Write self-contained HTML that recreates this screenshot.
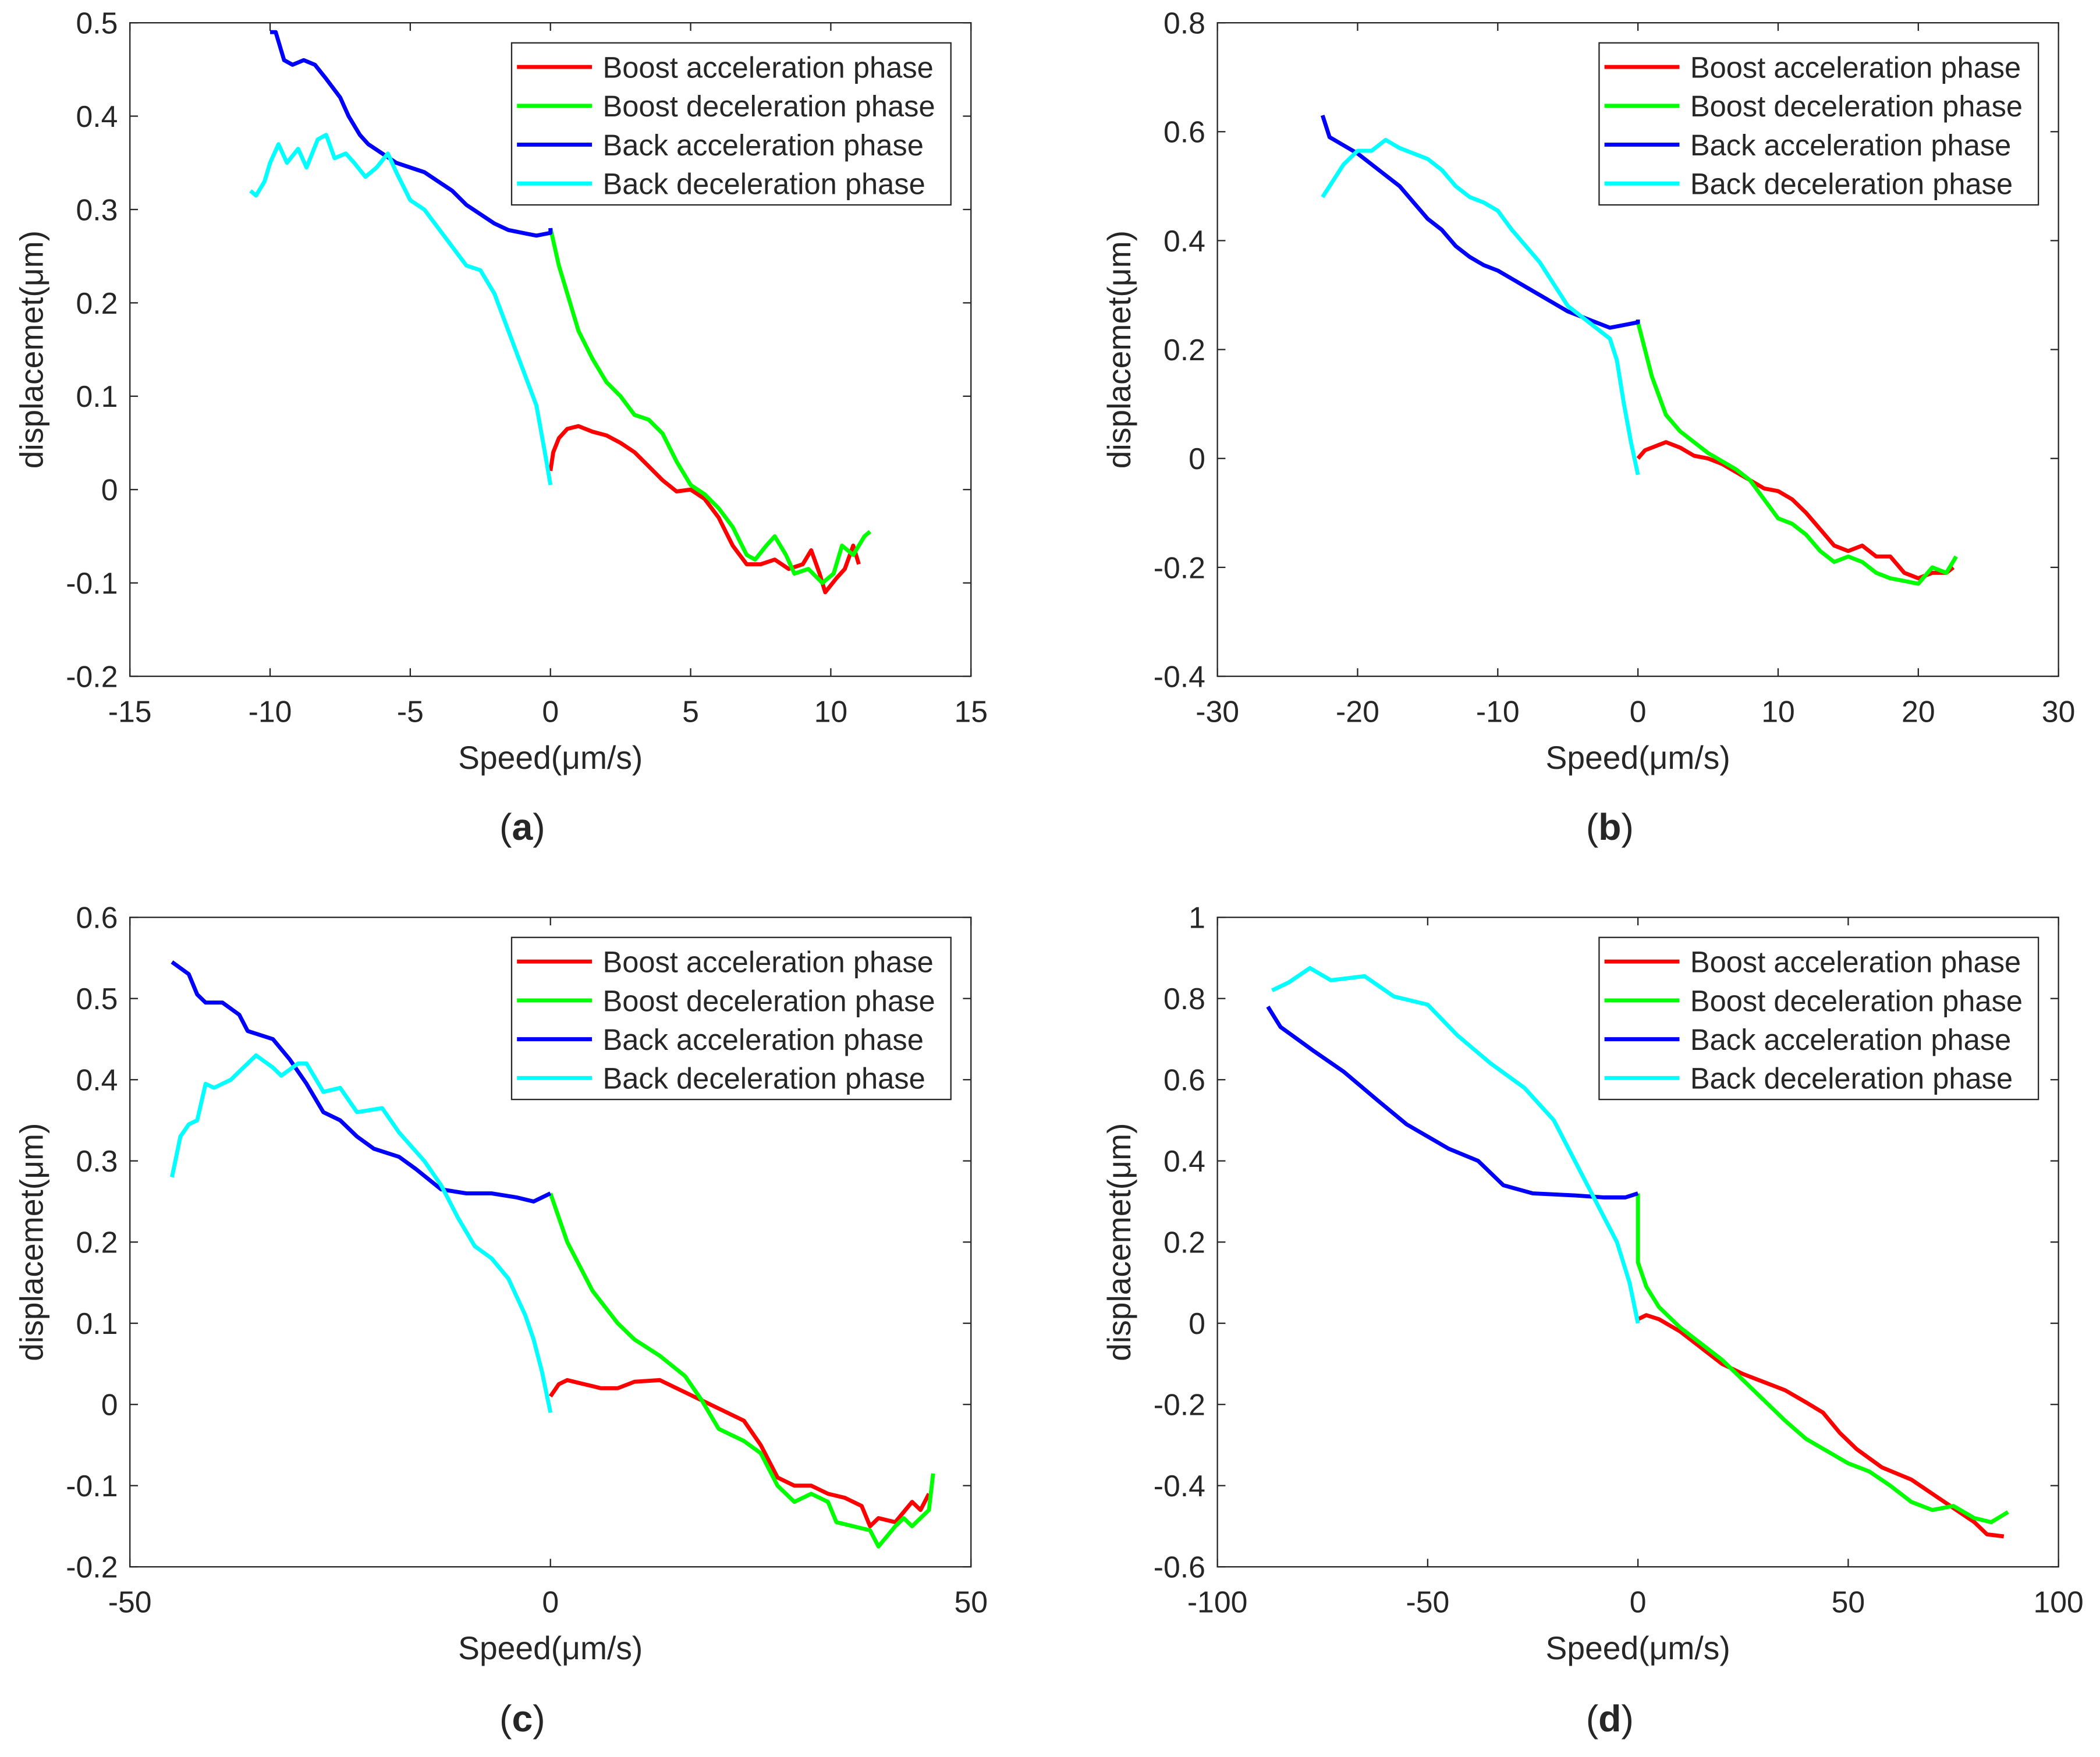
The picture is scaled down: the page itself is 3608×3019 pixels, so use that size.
<!DOCTYPE html>
<html><head><meta charset="utf-8"><style>
html,body{margin:0;padding:0;background:#fff}
svg{display:block}
text{font-family:"Liberation Sans",sans-serif;fill:#262626}
</style></head><body>
<svg id="fig" width="3608" height="3019" viewBox="0 0 1568 1312" xmlns="http://www.w3.org/2000/svg"></svg>
<script>
// Panel (a)
const aBoostAccX=[0,0.1,0.3,0.6,1,1.5,2,2.5,3,3.5,4,4.5,5,5.5,6,6.5,7,7.5,8,8.5,9,9.3,9.6,9.8,10.2,10.5,10.8,11];
const aBoostAccY=[0.02,0.04,0.055,0.065,0.068,0.062,0.058,0.05,0.04,0.025,0.01,-0.002,0,-0.01,-0.03,-0.06,-0.08,-0.08,-0.075,-0.085,-0.08,-0.065,-0.09,-0.11,-0.095,-0.085,-0.06,-0.08];
const aBoostDecX=[0,0.3,0.7,1,1.5,2,2.5,3,3.5,4,4.5,5,5.5,6,6.5,7,7.3,7.7,8,8.4,8.7,9.2,9.7,10.1,10.4,10.8,11.2,11.4];
const aBoostDecY=[0.28,0.24,0.2,0.17,0.14,0.115,0.1,0.08,0.075,0.06,0.03,0.005,-0.005,-0.02,-0.04,-0.07,-0.075,-0.06,-0.05,-0.07,-0.09,-0.085,-0.1,-0.09,-0.06,-0.07,-0.05,-0.045];
const aBackAccX=[-10,-9.8,-9.5,-9.2,-8.8,-8.4,-8,-7.5,-7.2,-6.8,-6.5,-6,-5.5,-5,-4.5,-4,-3.5,-3,-2.5,-2,-1.5,-1,-0.5,0,0];
const aBackAccY=[0.49,0.49,0.46,0.455,0.46,0.455,0.44,0.42,0.4,0.38,0.37,0.36,0.35,0.345,0.34,0.33,0.32,0.305,0.295,0.285,0.278,0.275,0.272,0.275,0.28];
const aBackDecX=[-10.7,-10.5,-10.2,-10,-9.7,-9.4,-9,-8.7,-8.3,-8,-7.7,-7.3,-7,-6.6,-6.2,-5.8,-5.5,-5,-4.5,-4,-3.5,-3,-2.5,-2,-1.5,-1,-0.5,-0.2,0];
const aBackDecY=[0.32,0.315,0.33,0.35,0.37,0.35,0.365,0.345,0.375,0.38,0.355,0.36,0.35,0.335,0.345,0.36,0.34,0.31,0.3,0.28,0.26,0.24,0.235,0.21,0.17,0.13,0.09,0.04,0.005];
const aXTicks=[-15,-10,-5,0,5,10,15];
const aYTicks=[-0.2,-0.1,0,0.1,0.2,0.3,0.4,0.5];
// Panel (b)
const bBoostAccX=[0,0.5,1,2,3,4,5,6,7,8,9,10,11,12,13,14,15,16,17,18,19,20,21,22,22.5];
const bBoostAccY=[0,0.015,0.02,0.03,0.02,0.005,0,-0.01,-0.025,-0.04,-0.055,-0.06,-0.075,-0.1,-0.13,-0.16,-0.17,-0.16,-0.18,-0.18,-0.21,-0.22,-0.21,-0.21,-0.2];
const bBoostDecX=[0,0.5,1,2,3,4,5,6,7,8,9,10,11,12,13,14,15,16,17,18,19,20,21,22,22.7];
const bBoostDecY=[0.25,0.2,0.15,0.08,0.05,0.03,0.01,-0.005,-0.02,-0.04,-0.075,-0.11,-0.12,-0.14,-0.17,-0.19,-0.18,-0.19,-0.21,-0.22,-0.225,-0.23,-0.2,-0.21,-0.18];
const bBackAccX=[-22.5,-22,-21,-20,-19,-18,-17,-16,-15,-14,-13,-12,-11,-10,-9,-8,-7,-6,-5,-4,-3,-2,-1,0,0];
const bBackAccY=[0.63,0.59,0.575,0.56,0.54,0.52,0.5,0.47,0.44,0.42,0.39,0.37,0.355,0.345,0.33,0.315,0.3,0.285,0.27,0.26,0.25,0.24,0.245,0.25,0.255];
const bBackDecX=[-22.5,-22,-21.5,-21,-20,-19,-18,-17,-16,-15,-14,-13,-12,-11,-10,-9,-8,-7,-6,-5,-4,-3,-2,-1.5,-1,-0.5,0];
const bBackDecY=[0.48,0.5,0.52,0.54,0.565,0.565,0.585,0.57,0.56,0.55,0.53,0.5,0.48,0.47,0.455,0.42,0.39,0.36,0.32,0.28,0.26,0.24,0.22,0.18,0.1,0.03,-0.03];
const bXTicks=[-30,-20,-10,0,10,20,30];
const bYTicks=[-0.4,-0.2,0,0.2,0.4,0.6,0.8];
// Panel (c)
const cBoostAccX=[0,1,2,4,6,8,10,13,16,18,20,23,25,27,29,31,33,35,37,38,39,41,43,44,45];
const cBoostAccY=[0.01,0.025,0.03,0.025,0.02,0.02,0.028,0.03,0.015,0.005,-0.005,-0.02,-0.05,-0.09,-0.1,-0.1,-0.11,-0.115,-0.125,-0.15,-0.14,-0.145,-0.12,-0.13,-0.11];
const cBoostDecX=[0,2,5,8,10,13,16,18,20,23,25,27,29,31,33,34,36,38,39,41,42,43,44,45,45.5];
const cBoostDecY=[0.26,0.2,0.14,0.1,0.08,0.06,0.035,0.005,-0.03,-0.045,-0.06,-0.1,-0.12,-0.11,-0.12,-0.145,-0.15,-0.155,-0.175,-0.15,-0.14,-0.15,-0.14,-0.13,-0.085];
const cBackAccX=[-45,-43,-42,-41,-39,-37,-36,-33,-31,-29,-27,-25,-23,-21,-18,-16,-13,-10,-7,-4,-2,0];
const cBackAccY=[0.545,0.53,0.505,0.495,0.495,0.48,0.46,0.45,0.425,0.395,0.36,0.35,0.33,0.315,0.305,0.29,0.265,0.26,0.26,0.255,0.25,0.26];
const cBackDecX=[-45,-44,-43,-42,-41,-40,-38,-37,-35,-33,-32,-30,-29,-27,-25,-23,-20,-18,-15,-13,-11,-9,-7,-5,-3,-2,-1,0];
const cBackDecY=[0.28,0.33,0.345,0.35,0.395,0.39,0.4,0.41,0.43,0.415,0.405,0.42,0.42,0.385,0.39,0.36,0.365,0.335,0.3,0.27,0.23,0.195,0.18,0.155,0.11,0.08,0.04,-0.01];
const cXTicks=[-50,0,50];
const cYTicks=[-0.2,-0.1,0,0.1,0.2,0.3,0.4,0.5,0.6];
// Panel (d)
const dBoostAccX=[0,2,5,10,15,20,25,30,35,40,44,48,52,58,65,70,75,80,83,87];
const dBoostAccY=[0.01,0.02,0.01,-0.02,-0.06,-0.1,-0.125,-0.145,-0.165,-0.195,-0.22,-0.27,-0.31,-0.355,-0.385,-0.42,-0.455,-0.49,-0.52,-0.525];
const dBoostDecX=[0,0,2,5,10,15,20,25,30,35,40,45,50,55,60,65,70,75,80,84,88];
const dBoostDecY=[0.32,0.15,0.09,0.04,-0.01,-0.05,-0.09,-0.14,-0.19,-0.24,-0.285,-0.315,-0.345,-0.365,-0.4,-0.44,-0.46,-0.45,-0.48,-0.49,-0.465];
const dBackAccX=[-88,-85,-77,-70,-62,-55,-50,-45,-38,-32,-25,-15,-8,-3,0];
const dBackAccY=[0.78,0.73,0.67,0.62,0.55,0.49,0.46,0.43,0.4,0.34,0.32,0.315,0.31,0.31,0.32];
const dBackDecX=[-87,-83,-78,-73,-65,-58,-50,-43,-35,-27,-20,-15,-10,-5,-2,0];
const dBackDecY=[0.82,0.84,0.875,0.845,0.855,0.805,0.785,0.71,0.64,0.58,0.5,0.4,0.3,0.2,0.1,0];
const dXTicks=[-100,-50,0,50,100];
const dYTicks=[-0.6,-0.4,-0.2,0,0.2,0.4,0.6,0.8,1];

const legendNames=["Boost acceleration phase","Boost deceleration phase","Back acceleration phase","Back deceleration phase"];
const colors=["#ff0000","#00ff00","#0000ff","#00ffff"];
const NS="http://www.w3.org/2000/svg";
const fig=document.getElementById('fig');
function mk(tag,attrs,parent){const e=document.createElementNS(NS,tag);for(const k in attrs)e.setAttribute(k,attrs[k]);(parent||fig).appendChild(e);return e;}
function fmt(v){return String(Math.round(v*1000)/1000);}

function panel(id,L,T,R,B,xmin,xmax,ymin,ymax,xt,yt,series,label,labelY){
  const g=mk('g',{});
  
  
  const sx=v=>L+(v-xmin)/(xmax-xmin)*(R-L);
  const sy=v=>B-(v-ymin)/(ymax-ymin)*(B-T);
  const box=mk('rect',{x:L,y:T,width:R-L,height:B-T,fill:'#fff',stroke:'#262626','stroke-width':1},g);
  
  
  xt.forEach(v=>{
    const x=sx(v);
    mk('line',{x1:x,y1:B,x2:x,y2:B-6,stroke:'#262626','stroke-width':1},g);
    mk('line',{x1:x,y1:T,x2:x,y2:T+6,stroke:'#262626','stroke-width':1},g);
    const t=mk('text',{x:x,y:B+34,'font-size':22.5,'text-anchor':'middle'},g);
    t.textContent=fmt(v);
    
    
  });
  yt.forEach(v=>{
    const y=sy(v);
    mk('line',{x1:L,y1:y,x2:L+6,y2:y,stroke:'#262626','stroke-width':1},g);
    mk('line',{x1:R,y1:y,x2:R-6,y2:y,stroke:'#262626','stroke-width':1},g);
    const t=mk('text',{x:L-9,y:y+8,'font-size':22.5,'text-anchor':'end'},g);
    t.textContent=fmt(v);
    
    
  });
  series.forEach((s,i)=>{
    const pts=s[0].map((x,j)=>sx(x).toFixed(2)+','+sy(s[1][j]).toFixed(2)).join(' ');
    const p=mk('polyline',{points:pts,fill:'none',stroke:colors[i],'stroke-width':3,'stroke-linejoin':'round'},g);
    
    
  });
  const xtitle=mk('text',{x:(L+R)/2,y:B+69,'font-size':24,'text-anchor':'middle'},g);
  xtitle.textContent='Speed(μm/s)';
  
  
  const cy=(T+B)/2, tx=L-65;
  const ytitle=mk('text',{x:tx,y:cy,'font-size':24,'text-anchor':'middle',transform:'rotate(-90 '+tx+' '+cy+')'},g);
  ytitle.textContent='displacemet(μm)';
  
  
  const lx=L+285, ly=T+15;
  const lg=mk('g',{},g);
  
  
  mk('rect',{x:lx,y:ly,width:328,height:121,fill:'#fff',stroke:'#262626','stroke-width':1},lg);
  legendNames.forEach((n,i)=>{
    const y=ly+18+i*29;
    mk('line',{x1:lx+4,y1:y,x2:lx+60,y2:y,stroke:colors[i],'stroke-width':3},lg);
    const t=mk('text',{x:lx+68,y:y+8,'font-size':22},lg);
    t.textContent=n;
    
    
  });
  const cap=mk('text',{x:(L+R)/2-21,y:labelY,'font-size':28,'text-anchor':'middle','font-family':'Liberation Serif, serif'},g);
  cap.innerHTML='(<tspan font-weight="bold">'+label+'</tspan>)';
  
  
}
panel('a',97,17,725,505,-15,15,-0.2,0.5,aXTicks,aYTicks,[[aBoostAccX,aBoostAccY],[aBoostDecX,aBoostDecY],[aBackAccX,aBackAccY],[aBackDecX,aBackDecY]],'a',627);
panel('b',909,17,1537,505,-30,30,-0.4,0.8,bXTicks,bYTicks,[[bBoostAccX,bBoostAccY],[bBoostDecX,bBoostDecY],[bBackAccX,bBackAccY],[bBackDecX,bBackDecY]],'b',627);
panel('c',97,685,725,1170,-50,50,-0.2,0.6,cXTicks,cYTicks,[[cBoostAccX,cBoostAccY],[cBoostDecX,cBoostDecY],[cBackAccX,cBackAccY],[cBackDecX,cBackDecY]],'c',1293);
panel('d',909,685,1537,1170,-100,100,-0.6,1,dXTicks,dYTicks,[[dBoostAccX,dBoostAccY],[dBoostDecX,dBoostDecY],[dBackAccX,dBackAccY],[dBackDecX,dBackDecY]],'d',1293);
</script>
</body></html>
